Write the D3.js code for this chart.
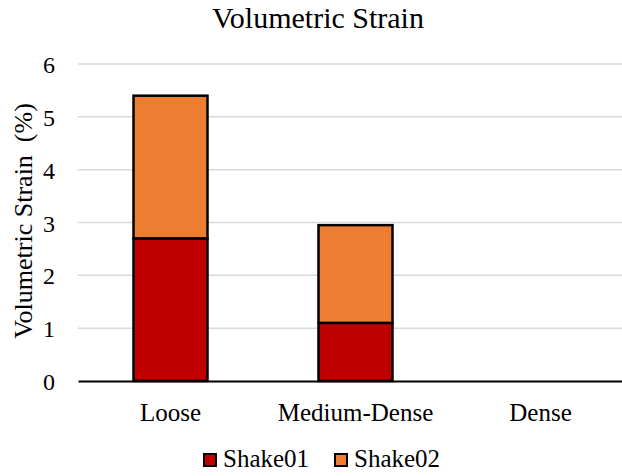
<!DOCTYPE html>
<html>
<head>
<meta charset="utf-8">
<script src="https://cdn.jsdelivr.net/npm/d3@7"></script>
<style>
  body { margin: 0; background: #fff; }
  svg { display: block; }
  svg text { font-family: "Liberation Serif", "Times New Roman", Times, serif; }
</style>
</head>
<body>
<svg id="chart" width="622" height="476"></svg>
<script>
// data
var categories = ["Loose", "Medium-Dense", "Dense"];
var seriesNames = ["Shake01", "Shake02"];
var shake01 = [2.7, 1.1, 0];
var shake02 = [2.7, 1.85, 0];
var yTicks = [0, 1, 2, 3, 4, 5, 6];
var colors = ["#C00000", "#ED7D31"];

var svg = d3.select("#chart");

// plot area (right edge runs past the picture, as in the reference)
var plotLeft = 78, plotRight = 633, plotTop = 64, plotBottom = 381;

var xScale = d3.scaleBand()
  .domain(categories)
  .range([plotLeft, plotRight])
  .paddingInner(0.6)
  .paddingOuter(0.3);

var yScale = d3.scaleLinear()
  .domain([0, 6])
  .range([plotBottom, plotTop]);

// stack the two series
var rows = categories.map(function(c, i) {
  return { cat: c, Shake01: shake01[i], Shake02: shake02[i] };
});
var stacked = d3.stack().keys(seriesNames)(rows);

// gridlines
svg.append("g")
  .selectAll("line")
  .data(yTicks.filter(function(d) { return d > 0; }))
  .join("line")
  .attr("x1", plotLeft)
  .attr("x2", plotRight)
  .attr("y1", function(d) { return yScale(d); })
  .attr("y2", function(d) { return yScale(d); })
  .attr("stroke", "#d9d9d9")
  .attr("stroke-width", 1.5);

// y tick labels
var yAxis = svg.append("g")
  .attr("transform", "translate(" + plotLeft + ",0)")
  .call(d3.axisLeft(yScale).tickValues(yTicks).tickSize(0).tickPadding(23).tickFormat(d3.format("d")));
yAxis.attr("font-family", null);
yAxis.select(".domain").remove();
yAxis.selectAll("text")
  .style("font-size", "24px")
  .attr("dy", "0.36em")
  .attr("fill", "#000");

// bars
svg.append("g")
  .selectAll("g")
  .data(stacked)
  .join("g")
  .attr("fill", function(d, i) { return colors[i]; })
  .selectAll("rect")
  .data(function(d) { return d.filter(function(p) { return p[1] - p[0] > 0; }); })
  .join("rect")
  .attr("x", function(d) { return xScale(d.data.cat); })
  .attr("y", function(d) { return yScale(d[1]); })
  .attr("width", xScale.bandwidth())
  .attr("height", function(d) { return yScale(d[0]) - yScale(d[1]); })
  .attr("stroke", "#000")
  .attr("stroke-width", 2.5);

// x axis
var xAxis = svg.append("g")
  .attr("transform", "translate(0," + plotBottom + ")")
  .call(d3.axisBottom(xScale).tickSize(0).tickPadding(22));
xAxis.attr("font-family", null);
xAxis.select(".domain")
  .attr("stroke", "#000")
  .attr("stroke-width", 2);
xAxis.selectAll("text")
  .style("font-size", "25px")
  .attr("fill", "#000");

// title
svg.append("text")
  .attr("x", 318)
  .attr("y", 28)
  .attr("text-anchor", "middle")
  .style("font-size", "30px")
  .text("Volumetric Strain");

// y axis title
svg.append("text")
  .attr("transform", "translate(32,221) rotate(-90)")
  .attr("text-anchor", "middle")
  .style("font-size", "26px")
  .style("white-space", "pre")
  .text("Volumetric Strain  (%)");

// legend
var legendX = [204, 335];
var legend = svg.append("g")
  .selectAll("g")
  .data(seriesNames)
  .join("g")
  .attr("transform", function(d, i) { return "translate(" + legendX[i] + ",454)"; });
legend.append("rect")
  .attr("width", 12)
  .attr("height", 12)
  .attr("fill", function(d, i) { return colors[i]; })
  .attr("stroke", "#000")
  .attr("stroke-width", 2);
legend.append("text")
  .attr("x", 19)
  .attr("y", 13)
  .style("font-size", "25px")
  .text(function(d) { return d; });
</script>
</body>
</html>
